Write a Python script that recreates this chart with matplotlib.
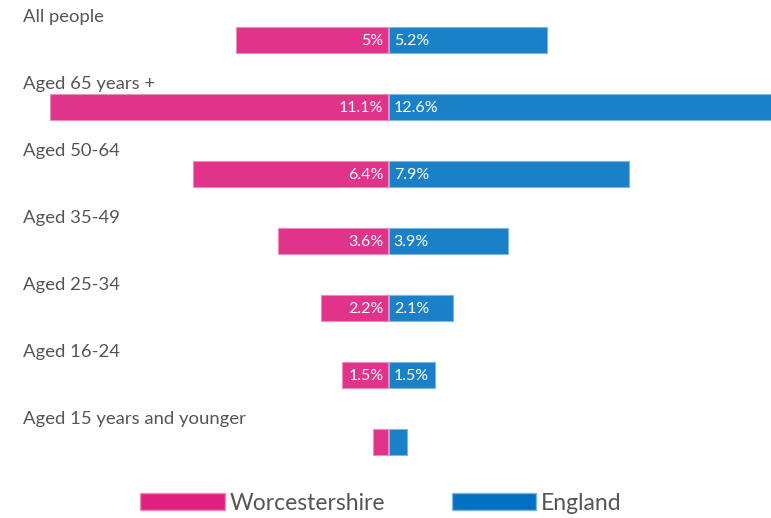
import matplotlib.pyplot as plt
from matplotlib.patches import Patch

categories = ["All people", "Aged 65 years +", "Aged 50-64", "Aged 35-49",
              "Aged 25-34", "Aged 16-24", "Aged 15 years and younger"]
worcs = [5.0, 11.1, 6.4, 3.6, 2.2, 1.5, 0.5]
england = [5.2, 12.6, 7.9, 3.9, 2.1, 1.5, 0.6]
worcs_labels = ["5%", "11.1%", "6.4%", "3.6%", "2.2%", "1.5%", ""]
england_labels = ["5.2%", "12.6%", "7.9%", "3.9%", "2.1%", "1.5%", ""]

pink = "#e0338a"
blue = "#1a80c8"
grey = "#555555"

plt.rcParams['font.family'] = ['Lato', 'DejaVu Sans']

fig = plt.figure(figsize=(7.71, 5.18), dpi=100)
ax = fig.add_axes([0, 0, 1, 1])
ax.set_xlim(-12.78, 12.58)
ax.set_ylim(7.134, -0.597)
ax.axis("off")

ys = list(range(len(categories)))
ax.barh(ys, [-v for v in worcs], left=-0.02, height=0.39, color=pink,
        edgecolor="#f08cbd", linewidth=0.8)
ax.barh(ys, england, left=0.02, height=0.39, color=blue,
        edgecolor="#7fb6e0", linewidth=0.8)

for y, cat, wl, el in zip(ys, categories, worcs_labels, england_labels):
    ax.text(23 / 771, y - 0.35, cat, transform=ax.get_yaxis_transform(),
            ha="left", va="center", fontsize=13.3, color=grey)
    if wl:
        ax.text(-0.17, y + 0.02, wl, ha="right", va="center", fontsize=11.5,
                color="white")
    if el:
        ax.text(0.17, y + 0.02, el, ha="left", va="center", fontsize=11.5,
                color="white")

handles = [Patch(facecolor="#e0207f", edgecolor="#f08cbd", label="Worcestershire"),
           Patch(facecolor="#0070c0", edgecolor="#7fb6e0", label="England")]
fig.legend(handles=handles, loc="center", bbox_to_anchor=(381 / 771, 1 - 503 / 518),
           ncol=2, frameon=False, fontsize=16.5, handlelength=3.7,
           handleheight=0.75, handletextpad=0.2, columnspacing=2.9,
           labelcolor=grey)

fig.savefig("out.png", dpi=100)
